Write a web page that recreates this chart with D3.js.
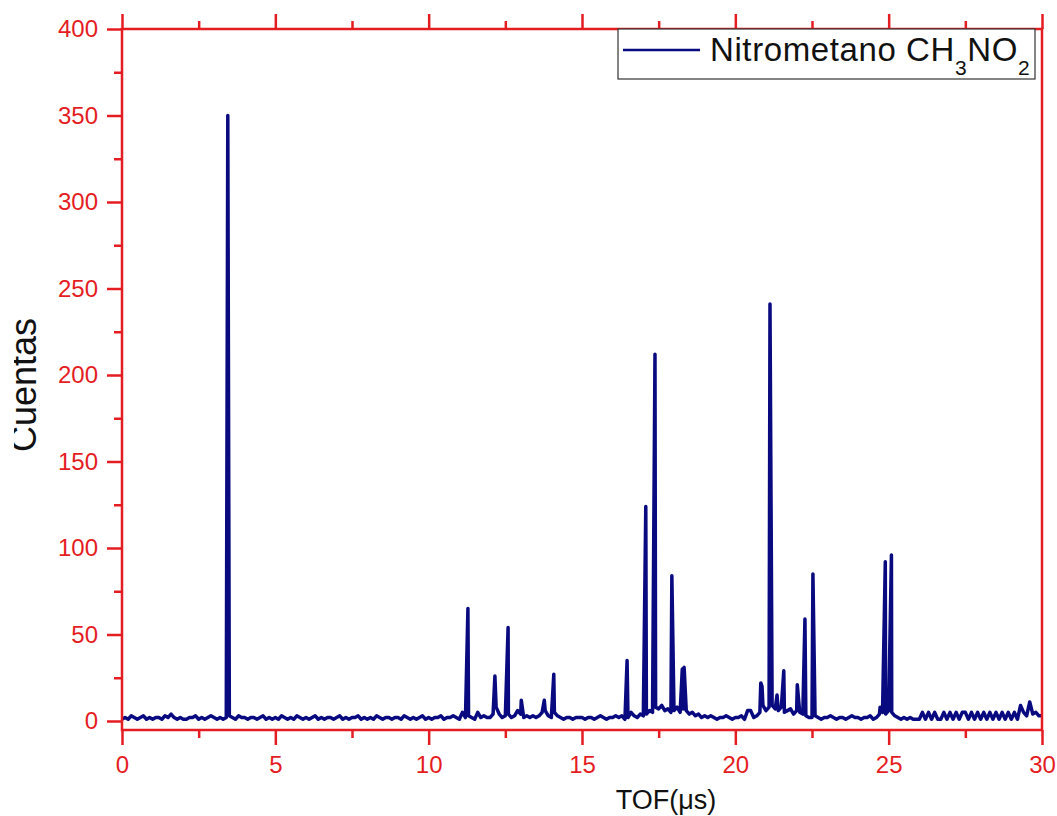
<!DOCTYPE html>
<html>
<head>
<meta charset="utf-8">
<script src="https://cdn.jsdelivr.net/npm/d3@7"></script>
<style>
  body { margin: 0; background: #fff; }
  text { font-family: "Liberation Sans", Arial, sans-serif; }
</style>
</head>
<body>
<script>
// background counts sampled every 0.1 us from 0 to 30 us
var tofStep = 0.1;
var baseline = [
  1,2,1,3,2,1,2,3,1,2, 1,2,2,1,3,2,4,2,1,2, 1,1,2,2,3,1,2,1,2,3,
  2,1,2,1,2,3,2,1,3,2, 2,1,2,2,1,2,3,1,2,1, 2,1,3,2,1,2,1,3,2,1,
  2,1,2,3,1,2,1,2,2,1, 2,3,1,2,1,2,2,3,1,2, 1,2,1,3,2,1,2,2,1,2,
  2,1,3,2,1,2,1,2,3,1, 2,1,2,2,3,1,2,2,3,2, 1,5,2,3,2,1,5,2,3,2,
  2,4,8,4,2,3,4,2,3,6, 4,2,3,2,3,2,3,5,6,3, 2,5,3,2,1,2,2,1,2,2,
  2,1,2,2,1,2,3,2,1,2, 2,3,2,3,1,2,5,3,2,4, 3,4,6,5,8,7,9,6,7,5,
  6,8,5,7,6,4,5,3,4,2, 3,2,3,2,1,2,2,3,2,1, 2,2,3,1,6,6,2,3,5,9,
  6,8,9,7,6,8,5,6,7,4, 6,5,4,3,2,2,3,2,1,2, 2,3,2,1,2,2,1,2,3,2,
  2,1,2,2,3,1,2,4,5,4, 6,5,3,2,1,2,1,2,1,1, 1,5,1,5,1,5,1,1,5,1,
  5,1,5,1,5,5,1,5,1,5, 1,5,1,5,1,5,1,5,1,5, 1,5,1,9,5,3,11,4,5,3,
  3
];

// peaks
var peakTof    = [3.45, 11.28, 12.16, 12.59, 13.02, 13.77, 14.08, 16.47, 17.08, 17.38, 17.93, 18.27, 18.33,
                  20.83, 20.87, 21.13, 21.36, 21.58, 22.02, 22.27, 22.53, 24.72, 24.89, 25.09];
var peakCounts = [350, 65, 26, 54, 12, 12, 27, 35, 124, 212, 84, 30, 31,
                  22, 20, 241, 15, 29, 21, 59, 85, 8, 92, 96];

var xTicks = [0, 5, 10, 15, 20, 25, 30];
var xMinor = [2.5, 7.5, 12.5, 17.5, 22.5, 27.5];
var yTicks = [0, 50, 100, 150, 200, 250, 300, 350, 400];
var yMinor = [25, 75, 125, 175, 225, 275, 325, 375];

var red = "#e41d23";
var navy = "#0a0a80";

var svgW = 1057, svgH = 816;
var plotL = 122, plotR = 1042, plotT = 29, plotB = 730;

var svg = d3.select("body").append("svg")
  .attr("width", svgW)
  .attr("height", svgH);

var x = d3.scaleLinear().domain([0, 30]).range([plotL, plotR]);
var y = d3.scaleLinear().domain([0, 400]).range([721, plotT]);

// merge background and peaks into one spectrum
var spectrum = baseline.map(function (c, i) { return [i * tofStep, c]; });
peakTof.forEach(function (t, i) { spectrum.push([t, peakCounts[i]]); });
spectrum.sort(function (a, b) { return a[0] - b[0]; });

var line = d3.line()
  .x(function (d) { return x(d[0]); })
  .y(function (d) { return y(d[1]); });

svg.append("path")
  .datum(spectrum)
  .attr("fill", "none")
  .attr("stroke", navy)
  .attr("stroke-width", 3.5)
  .attr("stroke-linejoin", "round")
  .attr("d", line);

function styleAxis(g) {
  g.select(".domain").remove();
  g.selectAll("line").attr("stroke", red).attr("stroke-width", 2.5);
  g.selectAll("text").attr("fill", red).style("font-size", "24px")
    .style("font-family", "'Liberation Sans', Arial, sans-serif");
}

// bottom
svg.append("g").attr("transform", "translate(0," + plotB + ")")
  .call(d3.axisBottom(x).tickValues(xTicks).tickSize(15).tickPadding(11).tickFormat(d3.format("d")))
  .call(styleAxis);
svg.append("g").attr("transform", "translate(0," + plotB + ")")
  .call(d3.axisBottom(x).tickValues(xMinor).tickSize(8).tickFormat(""))
  .call(styleAxis);

// top
svg.append("g").attr("transform", "translate(0," + plotT + ")")
  .call(d3.axisTop(x).tickValues(xTicks).tickSize(15).tickFormat(""))
  .call(styleAxis);
svg.append("g").attr("transform", "translate(0," + plotT + ")")
  .call(d3.axisTop(x).tickValues(xMinor).tickSize(8).tickFormat(""))
  .call(styleAxis);

// left
svg.append("g").attr("transform", "translate(" + plotL + ",0)")
  .call(d3.axisLeft(y).tickValues(yTicks).tickSize(15).tickPadding(9).tickFormat(d3.format("d")))
  .call(styleAxis);
svg.append("g").attr("transform", "translate(" + plotL + ",0)")
  .call(d3.axisLeft(y).tickValues(yMinor).tickSize(8).tickFormat(""))
  .call(styleAxis);

// frame
svg.append("rect")
  .attr("x", plotL).attr("y", plotT)
  .attr("width", plotR - plotL).attr("height", plotB - plotT)
  .attr("fill", "none")
  .attr("stroke", red)
  .attr("stroke-width", 2.5);

// legend
var leg = svg.append("g");
leg.append("rect")
  .attr("x", 618).attr("y", 29).attr("width", 417).attr("height", 50)
  .attr("fill", "#fff").attr("stroke", "#333").attr("stroke-width", 1.2);
leg.append("line")
  .attr("x1", 623).attr("x2", 700).attr("y1", 50).attr("y2", 50)
  .attr("stroke", navy).attr("stroke-width", 2.6);
var lt = leg.append("text")
  .attr("x", 710).attr("y", 61)
  .style("font-size", "33px").style("letter-spacing", "0.6px").attr("fill", "#111");
lt.append("tspan").text("Nitrometano CH");
lt.append("tspan").attr("dy", 14).style("font-size", "21px").text("3");
lt.append("tspan").attr("dy", -14).text("NO");
lt.append("tspan").attr("dy", 14).style("font-size", "21px").text("2");

// axis titles
svg.append("text")
  .attr("x", 666).attr("y", 809)
  .attr("text-anchor", "middle")
  .style("font-size", "27px").attr("fill", "#111")
  .text("TOF(\u03bcs)");

svg.append("clipPath").attr("id", "ylabclip")
  .append("rect").attr("x", 14).attr("y", 0).attr("width", 100).attr("height", svgH);
svg.append("g")
  .attr("clip-path", "url(#ylabclip)")
  .append("text")
  .attr("transform", "translate(36,385) rotate(-90)")
  .attr("text-anchor", "middle")
  .style("font-size", "36px").attr("fill", "#111")
  .text("Cuentas");
</script>
</body>
</html>
